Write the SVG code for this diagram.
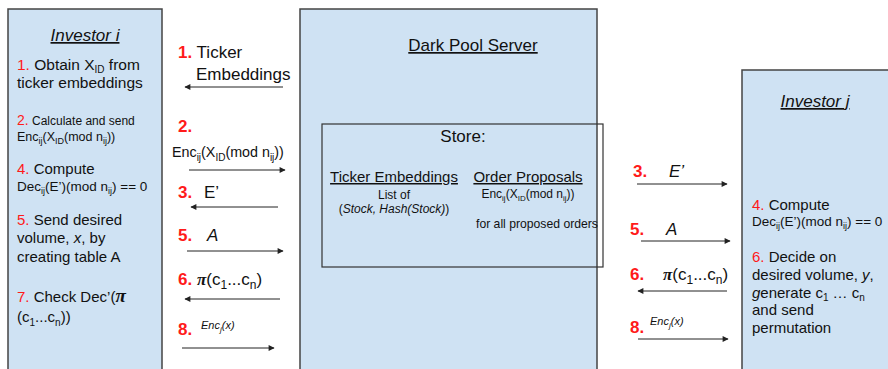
<svg xmlns="http://www.w3.org/2000/svg" width="888" height="369" viewBox="0 0 888 369">
<defs>
<style>
text{font-family:"Liberation Sans",Arial,sans-serif;fill:#111}
.box{fill:#cfe2f3;stroke:#444;stroke-width:1.5}
.store{fill:none;stroke:#333;stroke-width:1.2}
.red{fill:#ff1a1a}
.num{fill:#ff1a1a;font-weight:bold;font-size:17px}
.ttl{font-size:17px;text-decoration:underline}
.it{font-style:italic}
.pi{font-family:"Liberation Serif",serif;font-weight:bold;font-style:italic}
.arr{stroke:#222;stroke-width:1;fill:none;marker-end:url(#ah)}
</style>
<marker id="ah" viewBox="0 0 10 10" refX="9" refY="5" markerWidth="8" markerHeight="6" markerUnits="userSpaceOnUse" orient="auto">
<path d="M0,0 L10,5 L0,10 z" fill="#222"/>
</marker>
</defs>

<g id="investor-i">
<rect class="box" x="8" y="9" width="154" height="372"/>
<text x="85" y="41" class="ttl it" text-anchor="middle">Investor i</text>
<text x="17" y="70" font-size="15.5"><tspan class="red">1.</tspan> Obtain X<tspan font-size="10" dy="3">ID</tspan><tspan dy="-3"> from</tspan></text>
<text x="17" y="88" font-size="15.5">ticker embeddings</text>
<text x="17" y="125" font-size="12"><tspan class="red" font-size="14">2.</tspan> Calculate and send</text>
<text x="17" y="141" font-size="12.5">Enc<tspan font-size="9" dy="3">ij</tspan><tspan dy="-3">(X</tspan><tspan font-size="9" dy="3">ID</tspan><tspan dy="-3">(mod n</tspan><tspan font-size="9" dy="3">ij</tspan><tspan dy="-3">))</tspan></text>
<text x="17" y="174" font-size="15"><tspan class="red">4.</tspan> Compute</text>
<text x="17" y="191" font-size="13.5">Dec<tspan font-size="9" dy="3">ij</tspan><tspan dy="-3">(E’)(mod n</tspan><tspan font-size="9" dy="3">ij</tspan><tspan dy="-3">) == 0</tspan></text>
<text x="17" y="225" font-size="15"><tspan class="red">5.</tspan> Send desired</text>
<text x="17" y="243" font-size="15">volume, <tspan class="it">x</tspan>, by</text>
<text x="17" y="262" font-size="15">creating table A</text>
<text x="17" y="302" font-size="15"><tspan class="red">7.</tspan> Check Dec’(<tspan class="pi" font-size="19">π</tspan></text>
<text x="17" y="322" font-size="15">(c<tspan font-size="10" dy="4">1</tspan><tspan dy="-4">...c</tspan><tspan font-size="10" dy="4">n</tspan><tspan dy="-4">))</tspan></text>
</g>

<g id="dark-pool-server">
<rect class="box" x="300" y="9" width="297" height="372"/>
<text x="473" y="51" class="ttl" text-anchor="middle">Dark Pool Server</text>
</g>

<g id="store">
<rect class="store" x="322" y="124" width="281" height="143"/>
<text x="463" y="142" font-size="17" text-anchor="middle">Store:</text>
<text x="394" y="182" font-size="15" text-anchor="middle" text-decoration="underline">Ticker Embeddings</text>
<text x="394" y="199" font-size="12" text-anchor="middle">List of</text>
<text x="394" y="213" font-size="12" text-anchor="middle">(<tspan class="it">Stock, Hash(Stock)</tspan>)</text>
<text x="528" y="182" font-size="15" text-anchor="middle" text-decoration="underline">Order Proposals</text>
<text x="528" y="198" font-size="12" text-anchor="middle">Enc<tspan font-size="8" dy="3">ij</tspan><tspan dy="-3">(X</tspan><tspan font-size="8" dy="3">ID</tspan><tspan dy="-3">(mod n</tspan><tspan font-size="8" dy="3">ij</tspan><tspan dy="-3">))</tspan></text>
<text x="476" y="228" font-size="12.2">for all proposed orders</text>
</g>

<g id="investor-j">
<rect class="box" x="742" y="70" width="160" height="312"/>
<text x="815" y="107" class="ttl it" text-anchor="middle">Investor j</text>
<text x="752" y="210" font-size="15"><tspan class="red">4.</tspan> Compute</text>
<text x="752" y="226" font-size="13.5">Dec<tspan font-size="9" dy="3">ij</tspan><tspan dy="-3">(E’)(mod n</tspan><tspan font-size="9" dy="3">ij</tspan><tspan dy="-3">) == 0</tspan></text>
<text x="752" y="262" font-size="15"><tspan class="red">6.</tspan> Decide on</text>
<text x="752" y="280" font-size="15">desired volume, <tspan class="it">y</tspan>,</text>
<text x="752" y="298" font-size="15"><tspan class="it">g</tspan>enerate c<tspan font-size="10" dy="3">1</tspan><tspan dy="-3"> … c</tspan><tspan font-size="10" dy="3">n</tspan></text>
<text x="752" y="315" font-size="15">and send</text>
<text x="752" y="333" font-size="15">permutation</text>
</g>

<g id="connectors">
<line class="arr" x1="283" y1="87" x2="185" y2="87"/>
<line class="arr" x1="189" y1="170" x2="285" y2="170"/>
<line class="arr" x1="278" y1="207" x2="191" y2="207"/>
<line class="arr" x1="187" y1="251" x2="283" y2="251"/>
<line class="arr" x1="280" y1="299" x2="185" y2="299"/>
<line class="arr" x1="182" y1="348" x2="274" y2="348"/>
<line class="arr" x1="637" y1="184" x2="727" y2="184"/>
<line class="arr" x1="641" y1="241" x2="730" y2="241"/>
<line class="arr" x1="727" y1="291" x2="638" y2="291"/>
<line class="arr" x1="638" y1="339" x2="728" y2="339"/>
</g>

<g id="connector-labels">
<text x="178" y="58" font-size="17"><tspan class="num">1.</tspan> Ticker</text>
<text x="196" y="80" font-size="17">Embeddings</text>
<text x="178" y="132" class="num">2.</text>
<text x="172" y="157" font-size="14.3">Enc<tspan font-size="10" dy="4">ij</tspan><tspan dy="-4">(X</tspan><tspan font-size="10" dy="4">ID</tspan><tspan dy="-4">(mod n</tspan><tspan font-size="10" dy="4">ij</tspan><tspan dy="-4">))</tspan></text>
<text x="178" y="198" class="num">3.</text>
<text x="204" y="198" font-size="17">E’</text>
<text x="178" y="241" class="num">5.</text>
<text x="207" y="241" font-size="17" class="it">A</text>
<text x="178" y="285" class="num">6.</text>
<text x="197" y="285" font-size="17"><tspan class="pi">π</tspan>(c<tspan font-size="12" dy="4">1</tspan><tspan dy="-4">...c</tspan><tspan font-size="12" dy="4">n</tspan><tspan dy="-4">)</tspan></text>
<text x="178" y="335" class="num">8.</text>
<text x="201" y="329" font-size="11" class="it">Enc<tspan font-size="8" dy="3">j</tspan><tspan dy="-3">(x)</tspan></text>
<text x="633" y="177" class="num">3.</text>
<text x="669" y="177" font-size="17" class="it">E’</text>
<text x="630" y="235" class="num">5.</text>
<text x="666" y="235" font-size="17" class="it">A</text>
<text x="630" y="280" class="num">6.</text>
<text x="663" y="280" font-size="17"><tspan class="pi">π</tspan>(c<tspan font-size="12" dy="4">1</tspan><tspan dy="-4">...c</tspan><tspan font-size="12" dy="4">n</tspan><tspan dy="-4">)</tspan></text>
<text x="630" y="333" class="num">8.</text>
<text x="650" y="325" font-size="11" class="it">Enc<tspan font-size="8" dy="3">j</tspan><tspan dy="-3">(x)</tspan></text>
</g>
</svg>
